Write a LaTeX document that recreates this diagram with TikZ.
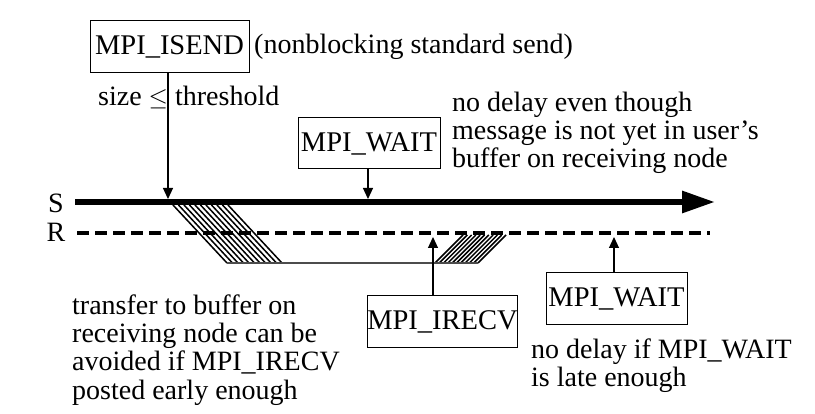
\documentclass[tikz,border=0pt]{standalone}
\usepackage{fontspec}
\setmainfont{Liberation Serif}
\usetikzlibrary{arrows.meta}
\tikzset{
  callbox/.style={draw, line width=1pt, inner sep=0pt, font=\fontsize{28.5}{30}\selectfont},
  bodytext/.style={inner sep=0pt, align=left, font=\fontsize{28}{28.3}\selectfont},
  lbl/.style={inner sep=0pt, font=\fontsize{28}{30}\selectfont},
  conn/.style={line width=1.1pt, -{Triangle[length=11pt,width=10pt]}},
  hatch/.style={line width=1.5pt},
}
\begin{document}
\begin{tikzpicture}[x=1pt,y=-1pt]
\useasboundingbox (0,0) rectangle (815,414);
% process lines
\coordinate (sA) at (75,202);
\coordinate (sB) at (715,202);
\coordinate (rA) at (77,233);
\coordinate (rB) at (710,233);
\node[lbl] (S) at (56,203) {S};
\node[lbl] (R) at (56,232) {R};
\draw[line width=6pt, -{Triangle[length=33pt,width=21pt]}] (sA) -- (sB);
\draw[line width=4pt, dash pattern=on 12pt off 6pt] (rA) -- (rB);
% hatched transfers
\foreach \i in {0,...,10}{
  \draw[hatch] ({173+5.5*\i},205) -- ({227+5.5*\i},263);
}
\foreach \i in {0,...,10}{
  \draw[hatch] ({435+4.3*\i},263) -- ({463+4.3*\i},235);
}
\coordinate (bA) at (227,263);
\coordinate (bB) at (478,263);
\draw[line width=1.4pt, black!70] (bA) -- (bB);
% boxes
\node[callbox, minimum width=159pt, minimum height=52pt] (isend) at (169.5,47) {MPI\_ISEND};
\node[bodytext, anchor=west] (isendtxt) at (254,47) {(nonblocking standard send)};
\node[bodytext, anchor=west] (thr) at (98,97) {size $\leq$ threshold};
\node[callbox, minimum width=142pt, minimum height=51pt] (wait1) at (369,143.5) {MPI\_WAIT};
\node[bodytext, anchor=west] (wait1txt) at (452,133) {no delay even though\\message is not yet in user's\\buffer on receiving node};
\node[callbox, minimum width=149pt, minimum height=52pt] (irecv) at (442.5,322) {MPI\_IRECV};
\node[callbox, minimum width=141pt, minimum height=52pt] (wait2) at (616.5,299) {MPI\_WAIT};
\node[bodytext, anchor=west] (wait2txt) at (531,366) {no delay if MPI\_WAIT\\is late enough};
\node[bodytext, anchor=west] (lefttxt) at (72,350) {transfer to buffer on\\receiving node can be\\avoided if MPI\_IRECV\\posted early enough};
% connectors
\coordinate (tI) at (168,199);
\coordinate (tW) at (368,199);
\coordinate (rI) at (433,237);
\coordinate (rW) at (614,237);
\draw[conn] (isend.south -| tI) -- (tI);
\draw[conn] (wait1.south -| tW) -- (tW);
\draw[conn] (irecv.north -| rI) -- (rI);
\draw[conn] (wait2.north -| rW) -- (rW);
\end{tikzpicture}
\end{document}
